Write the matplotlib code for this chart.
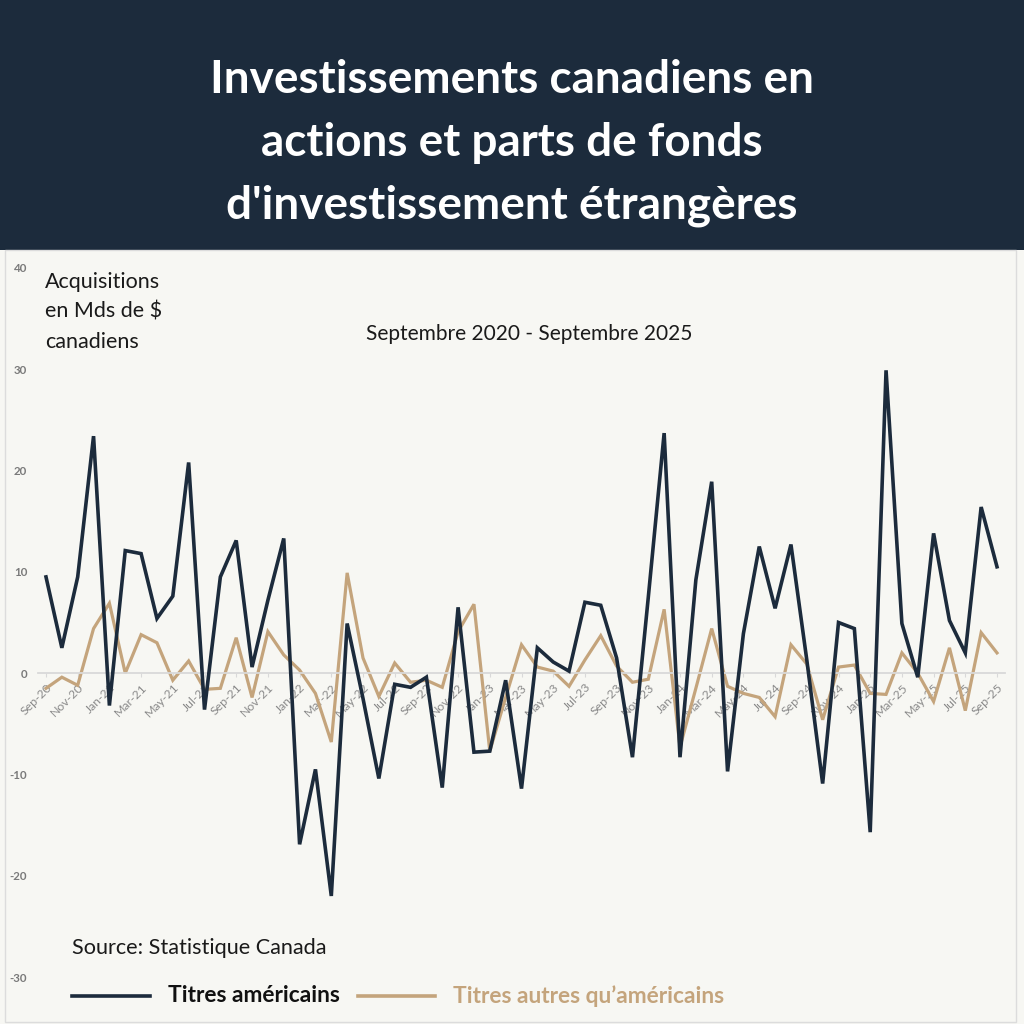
import matplotlib.pyplot as plt
from matplotlib.patches import Rectangle
from matplotlib.lines import Line2D

# Acquisitions mensuelles, milliards de $ CA, sep. 2020 - sep. 2025
months = ["Sep-20", "Oct-20", "Nov-20", "Dec-20", "Jan-21", "Feb-21", "Mar-21", "Apr-21", "May-21", "Jun-21",
          "Jul-21", "Aug-21", "Sep-21", "Oct-21", "Nov-21", "Dec-21", "Jan-22", "Feb-22", "Mar-22", "Apr-22",
          "May-22", "Jun-22", "Jul-22", "Aug-22", "Sep-22", "Oct-22", "Nov-22", "Dec-22", "Jan-23", "Feb-23",
          "Mar-23", "Apr-23", "May-23", "Jun-23", "Jul-23", "Aug-23", "Sep-23", "Oct-23", "Nov-23", "Dec-23",
          "Jan-24", "Feb-24", "Mar-24", "Apr-24", "May-24", "Jun-24", "Jul-24", "Aug-24", "Sep-24", "Oct-24",
          "Nov-24", "Dec-24", "Jan-25", "Feb-25", "Mar-25", "Apr-25", "May-25", "Jun-25", "Jul-25", "Aug-25",
          "Sep-25"]

us_stocks = [9.5, 2.5, 9.5, 23.4, -3.2, 12.1, 11.8, 5.4, 7.6, 20.8,
             -3.6, 9.5, 13.1, 0.6, 7.2, 13.3, -16.9, -9.5, -22.0, 4.9,
             -2.5, -10.4, -1.1, -1.4, -0.4, -11.3, 6.5, -7.8, -7.7, -0.7,
             -11.4, 2.5, 1.1, 0.2, 7.0, 6.7, 1.5, -8.3, 7.5, 23.7,
             -8.3, 9.2, 18.9, -9.7, 3.9, 12.5, 6.4, 12.7, 1.3, -10.9,
             5.0, 4.4, -15.7, 29.9, 4.9, -0.4, 13.8, 5.2, 2.0, 16.4,
             10.5]

non_us_stocks = [-1.5, -0.4, -1.2, 4.4, 6.9, 0.0, 3.8, 3.0, -0.7, 1.2,
                 -1.6, -1.5, 3.5, -2.4, 4.1, 1.8, 0.3, -2.0, -6.8, 9.9,
                 1.5, -2.3, 1.0, -0.9, -0.7, -1.4, 4.1, 6.8, -7.7, -2.4,
                 2.8, 0.6, 0.2, -1.3, 1.3, 3.7, 0.7, -0.9, -0.6, 6.3,
                 -7.3, -1.5, 4.4, -1.3, -2.0, -2.4, -4.3, 2.8, 0.9, -4.6,
                 0.6, 0.8, -2.0, -2.1, 2.0, 0.0, -2.8, 2.5, -3.7, 4.0,
                 2.0]

y_ticks = [-30, -20, -10, 0, 10, 20, 30, 40]

NAVY = "#1c2b3c"
TAN = "#c4a47c"
BG = "#f7f7f3"
TICK_GREY = "#8a8a8a"

W, H = 1024, 1024
fig = plt.figure(figsize=(W / 100, H / 100), dpi=100)
fig.patch.set_facecolor(BG)

# header band + thin frame round the chart panel
fig.patches.append(Rectangle((0, 1 - 250 / H), 1, 250 / H, transform=fig.transFigure,
                             facecolor=NAVY, edgecolor="none", zorder=0))
fig.patches.append(Rectangle((5 / W, 2 / H), 1011 / W, (H - 252) / H, transform=fig.transFigure,
                             facecolor="none", edgecolor="#dcdcdc", lw=1, zorder=0))
title = "Investissements canadiens en\nactions et parts de fonds\nd'investissement étrangères"
fig.text(0.5, 1 - 143 / H, title, ha="center", va="center", color="white",
         fontsize=33, fontweight="bold", family="Lato", linespacing=1.6)

# plot area: x data 0 -> px 46, 60 -> px 997 ; y 40 -> px 268, -30 -> px 977
ax_left, ax_right = 30, 1015
px_per_month = (997 - 46) / 60
x0 = -(46 - ax_left) / px_per_month
x1 = 60 + (ax_right - 997) / px_per_month
ax = fig.add_axes([ax_left / W, 1 - 977 / H, (ax_right - ax_left) / W, (977 - 268) / H])
ax.set_facecolor("none")

x = list(range(len(months)))
ax.plot(x, us_stocks, color=NAVY, lw=2.6, solid_joinstyle="miter", zorder=3, clip_on=False)
ax.plot(x, non_us_stocks, color=TAN, lw=2.3, solid_joinstyle="miter", zorder=2, clip_on=False)

ax.set_xlim(x0, x1)
ax.set_ylim(-30, 40)

for side in ["top", "right", "left"]:
    ax.spines[side].set_visible(False)
ax.spines["bottom"].set_position(("data", 0))
ax.spines["bottom"].set_color("#d9d9d9")
ax.spines["bottom"].set_linewidth(1.3)
ax.spines["bottom"].set_bounds(-0.5, 60.5)

ax.set_xticks(x[::2])
ax.set_xticklabels(months[::2], rotation=45, ha="right", rotation_mode="anchor",
                   fontsize=8.8, color=TICK_GREY, family="Lato")
ax.tick_params(axis="x", length=3, color="#d9d9d9", pad=3)

ax.set_yticks(y_ticks)
ax.set_yticklabels([str(v) for v in y_ticks], fontsize=8.3, color="#7a7a7a",
                   fontweight="bold", family="Lato")
ax.tick_params(axis="y", length=0, pad=2)

# texts
fig.text(45 / W, 1 - 312 / H, "Acquisitions\nen Mds de $\ncanadiens", ha="left", va="center",
         fontsize=15.5, color="#1a1a1a", family="Lato", linespacing=1.6)
fig.text(529 / W, 1 - 334 / H, "Septembre 2020 - Septembre 2025", ha="center", va="center",
         fontsize=15, color="#1a1a1a", family="Lato")
fig.text(72 / W, 1 - 948 / H, "Source: Statistique Canada", ha="left", va="center",
         fontsize=15.6, color="#1a1a1a", family="Lato")

# legend row
ly = 1 - 996 / H
fig.lines.append(Line2D([72 / W, 150 / W], [ly, ly], transform=fig.transFigure, color=NAVY, lw=2.6))
fig.text(168 / W, ly, "Titres américains", ha="left", va="center", fontsize=16.4,
         fontweight="bold", color="#111111", family="Lato")
fig.lines.append(Line2D([358 / W, 435 / W], [ly, ly], transform=fig.transFigure, color=TAN, lw=2.6))
fig.text(453 / W, ly, "Titres autres qu\u2019américains", ha="left", va="center", fontsize=16.4,
         fontweight="bold", color=TAN, family="Lato")

fig.savefig("out.png", dpi=100, facecolor=fig.get_facecolor())
